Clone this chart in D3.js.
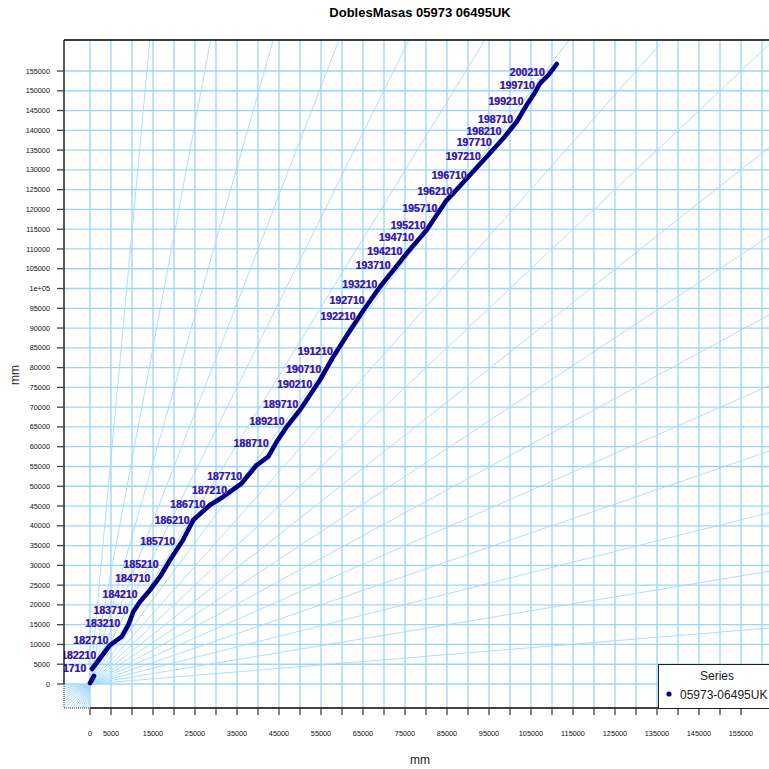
<!DOCTYPE html>
<html>
<head>
<meta charset="utf-8">
<script src="https://cdn.jsdelivr.net/npm/d3@7"></script>
<style>
body { margin: 0; background: #fff; }
text { font-family: "Liberation Sans", Arial, sans-serif; }
</style>
</head>
<body>
<script>
// series points (mm), a gap between the first short piece and the rest
var seriesX = [0, 952, null, 476, 4769, 7548, 9120, 10310, 11905, 14286, 16667, 19048, 22143, 24595, 28571, 31738, 36119, 39690, 42452, 44452, 46833, 50000, 54762, 57929, 61905, 65071, 69048, 72619, 75405, 80167, 84929, 86500, 90476, 94452, 98405, 101595, 103976, 105548, 107143, 109119, 111119];
var seriesY = [253, 2023, null, 3793, 9861, 11960, 14918, 18281, 20809, 23767, 27130, 31353, 36410, 41467, 45259, 47358, 50746, 55373, 57472, 61264, 65057, 69279, 76865, 82756, 89381, 94438, 100455, 105108, 108900, 114791, 122377, 124071, 128698, 133325, 137977, 142175, 146397, 148925, 151884, 153982, 156764];

var labelText = ["181710", "182210", "182710", "183210", "183710", "184210", "184710", "185210", "185710", "186210", "186710", "187210", "187710", "188710", "189210", "189710", "190210", "190710", "191210", "192210", "192710", "193210", "193710", "194210", "194710", "195210", "195710", "196210", "196710", "197210", "197710", "198210", "198710", "199210", "199710", "200210"];
var labelX = [240, 2623, 5555, 8345, 10324, 12470, 15498, 17477, 21459, 24869, 28612, 33786, 37363, 43705, 47449, 50715, 54053, 56199, 58965, 64378, 66524, 69552, 72723, 75513, 78278, 81068, 83858, 87434, 90844, 94182, 96805, 99118, 101884, 104363, 107058, 109442];
var labelY = [4045, 7333, 11125, 15348, 18534, 22680, 26726, 30341, 36157, 41467, 45436, 49052, 52592, 60860, 66321, 70721, 75778, 79646, 84020, 92870, 97092, 101062, 105942, 109305, 112946, 116056, 120278, 124652, 128521, 133325, 136865, 139823, 142781, 147232, 151454, 154564];

var ticks = d3.range(0, 160000, 5000);
var xLabels = [0, 5000, 15000, 25000, 35000, 45000, 55000, 65000, 75000, 85000, 95000, 105000, 115000, 125000, 135000, 145000, 155000];
var rayAngles = d3.range(5, 90, 5);

var w = 769, h = 769;
var pLeft = 64, pTop = 40, pRight = 774, pBottom = 708;

var x = d3.scaleLinear().domain([0, 155000]).range([90, 741]);
var y = d3.scaleLinear().domain([0, 155000]).range([684, 71]);

var svg = d3.select("body").append("svg").attr("width", w).attr("height", h);

svg.append("defs").append("clipPath").attr("id", "plot")
  .append("rect").attr("x", pLeft).attr("y", pTop)
  .attr("width", pRight - pLeft).attr("height", pBottom - pTop);

var plot = svg.append("g").attr("clip-path", "url(#plot)");

// grid
plot.selectAll(".vg").data(ticks.concat([160000])).enter().append("line")
  .attr("x1", function(d){return x(d);}).attr("x2", function(d){return x(d);})
  .attr("y1", pTop).attr("y2", pBottom)
  .attr("stroke", "#9dd5f8").attr("stroke-width", 1.3);
plot.selectAll(".hg").data(ticks).enter().append("line")
  .attr("y1", function(d){return y(d);}).attr("y2", function(d){return y(d);})
  .attr("x1", pLeft).attr("x2", pRight)
  .attr("stroke", "#9dd5f8").attr("stroke-width", 1.3);

// rays through the origin every 5 degrees
plot.selectAll(".ray").data(rayAngles).enter().append("line")
  .attr("x1", function(d){return x(-300000);})
  .attr("y1", function(d){return y(-300000 * Math.tan(d * Math.PI / 180));})
  .attr("x2", function(d){return x(300000);})
  .attr("y2", function(d){return y(300000 * Math.tan(d * Math.PI / 180));})
  .attr("stroke", "#a4d9fa").attr("stroke-width", 0.9);

// series
var pts = seriesX.map(function(d, i){return [d, seriesY[i]];});
var line = d3.line()
  .defined(function(d){return d[0] != null;})
  .x(function(d){return x(d[0]);})
  .y(function(d){return y(d[1]);});
plot.append("path").datum(pts).attr("d", line)
  .attr("fill", "none").attr("stroke", "#00007f").attr("stroke-width", 4.6)
  .attr("stroke-linejoin", "round").attr("stroke-linecap", "round");

// labels, a pink copy under the blue one
var lab = plot.selectAll(".lab").data(labelText).enter().append("g");
lab.append("text")
  .attr("x", function(d, i){return x(labelX[i]) - 4.4;})
  .attr("y", function(d, i){return y(labelY[i]);})
  .attr("dy", "0.35em").attr("text-anchor", "end")
  .attr("font-size", 10.5).attr("font-weight", "bold").attr("fill", "#e048c0")
  .text(function(d){return d;});
lab.append("text")
  .attr("x", function(d, i){return x(labelX[i]) - 5;})
  .attr("y", function(d, i){return y(labelY[i]);})
  .attr("dy", "0.35em").attr("text-anchor", "end")
  .attr("font-size", 10.5).attr("font-weight", "bold").attr("fill", "#0e2cb0")
  .text(function(d){return d;});

// frame
svg.append("line").attr("x1", pLeft).attr("x2", pRight).attr("y1", pTop).attr("y2", pTop)
  .attr("stroke", "#000").attr("stroke-width", 1.3);
svg.append("line").attr("x1", pLeft).attr("x2", pLeft).attr("y1", pTop).attr("y2", y(0))
  .attr("stroke", "#000").attr("stroke-width", 1.3);
svg.append("line").attr("x1", pLeft).attr("x2", pLeft).attr("y1", y(0)).attr("y2", pBottom)
  .attr("stroke", "#333").attr("stroke-width", 1).attr("stroke-dasharray", "1,1");
svg.append("line").attr("x1", x(0)).attr("x2", pRight).attr("y1", pBottom).attr("y2", pBottom)
  .attr("stroke", "#000").attr("stroke-width", 1.3);
svg.append("line").attr("x1", pLeft).attr("x2", x(0)).attr("y1", pBottom).attr("y2", pBottom)
  .attr("stroke", "#333").attr("stroke-width", 1).attr("stroke-dasharray", "1,1");

// y axis
svg.selectAll(".yt").data(ticks).enter().append("line")
  .attr("x1", pLeft - 7).attr("x2", pLeft)
  .attr("y1", function(d){return y(d);}).attr("y2", function(d){return y(d);})
  .attr("stroke", "#444").attr("stroke-width", 1.3);
svg.selectAll(".yl").data(ticks).enter().append("text")
  .attr("x", 50).attr("y", function(d){return y(d);}).attr("dy", "0.35em")
  .attr("text-anchor", "end").attr("font-size", 7.3).attr("fill", "#111")
  .text(function(d){return d == 100000 ? "1e+05" : d;});

// x axis
svg.selectAll(".xt").data(ticks).enter().append("line")
  .attr("y1", pBottom).attr("y2", pBottom + 7)
  .attr("x1", function(d){return x(d);}).attr("x2", function(d){return x(d);})
  .attr("stroke", "#444").attr("stroke-width", 1.3);
svg.selectAll(".xl").data(xLabels).enter().append("text")
  .attr("y", 733).attr("x", function(d){return x(d);}).attr("dy", "0.35em")
  .attr("text-anchor", "middle").attr("font-size", 7.3).attr("fill", "#111")
  .text(function(d){return d;});

// titles
svg.append("text").attr("x", 420).attr("y", 17).attr("text-anchor", "middle")
  .attr("font-size", 13).attr("font-weight", "bold").text("DoblesMasas 05973 06495UK");
svg.append("text").attr("x", 420).attr("y", 764).attr("text-anchor", "middle")
  .attr("font-size", 12).attr("fill", "#222").text("mm");
svg.append("text").attr("transform", "translate(19,375) rotate(-90)").attr("text-anchor", "middle")
  .attr("font-size", 12).attr("fill", "#222").text("mm");

// legend
var lg = svg.append("g");
lg.append("rect").attr("x", 658.5).attr("y", 664.5).attr("width", 130).attr("height", 44)
  .attr("fill", "#fff").attr("stroke", "#222").attr("stroke-width", 1);
lg.append("text").attr("x", 717).attr("y", 680).attr("text-anchor", "middle")
  .attr("font-size", 12).attr("fill", "#222").text("Series");
lg.append("circle").attr("cx", 669).attr("cy", 694).attr("r", 2.6).attr("fill", "#00007f");
lg.append("text").attr("x", 680).attr("y", 698.5)
  .attr("font-size", 12).attr("fill", "#222").text("05973-06495UK");
</script>
</body>
</html>
